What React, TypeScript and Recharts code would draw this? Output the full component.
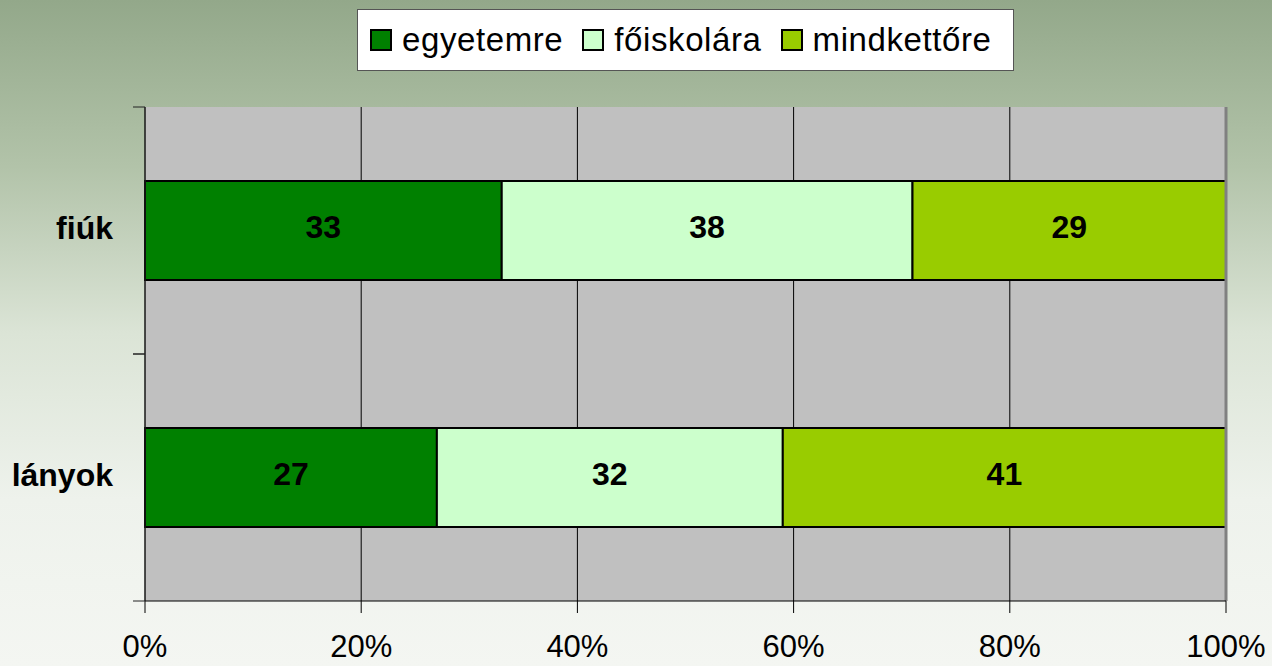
import { Bar, BarChart, CartesianGrid, LabelList, Legend, ReferenceLine, XAxis, YAxis } from 'recharts';
import type { ReactElement } from 'react';

const groups = ['fiúk', 'lányok'];
const egyetemre = [33, 27];
const foiskolara = [38, 32];
const mindketto = [29, 41];
const xTicks = [0, 20, 40, 60, 80, 100];

const seriesNames = ['egyetemre', 'főiskolára', 'mindkettőre'];
const seriesColors = ['#008000', '#CCFFCC', '#99CC00'];

const data = groups.map((g, i) => ({
  group: g,
  s0: egyetemre[i],
  s1: foiskolara[i],
  s2: mindketto[i],
}));

const font = '"Liberation Sans", Arial, sans-serif';
const catMargin = 32;

function LegendBox(): ReactElement {
  return (
    <div
      style={{
        background: '#fff',
        border: '1px solid #555',
        width: 657,
        height: 62,
        boxSizing: 'border-box',
        display: 'flex',
        alignItems: 'center',
        paddingLeft: 12,
        fontFamily: font,
        fontSize: 33,
        color: '#000',
        gap: 19,
      }}
    >
      {seriesNames.map((name, i) => (
        <div key={name} style={{ display: 'flex', alignItems: 'center' }}>
          <span
            style={{
              display: 'inline-block',
              width: 18,
              height: 18,
              background: seriesColors[i],
              border: '2px solid #000',
              marginRight: 10,
            }}
          />
          <span style={{ letterSpacing: 0.6 }}>{name}</span>
        </div>
      ))}
    </div>
  );
}

// category label plus tick marks on the band edges
function CategoryTick(props: any): ReactElement {
  const { x, y, payload } = props;
  const half = payload?.offset ?? 0;
  const axisX = x + catMargin;
  return (
    <g>
      <text
        x={x}
        y={y}
        dy={-3}
        textAnchor="end"
        dominantBaseline="central"
        fontSize={32}
        fontWeight="bold"
        fontFamily={font}
        fill="#000"
      >
        {payload.value}
      </text>
      {half > 0 && (
        <>
          <line x1={axisX - 12} x2={axisX} y1={y - half} y2={y - half} stroke="#222" />
          <line x1={axisX - 12} x2={axisX} y1={y + half} y2={y + half} stroke="#222" />
        </>
      )}
    </g>
  );
}

export default function App(): ReactElement {
  return (
    <div
      style={{
        position: 'fixed',
        left: 0,
        top: 0,
        width: 1272,
        height: 666,
        background: 'linear-gradient(to bottom, #93a88a 0%, #b2c3a9 25%, #dbe4d6 50%, #eef2ec 75%, #f4f6f2 100%)',
      }}
    >
      <BarChart
        width={1272}
        height={666}
        data={data}
        layout="vertical"
        margin={{ top: 107, right: 46, left: 0, bottom: 0 }}
        barCategoryGap="30%"
      >
        <CartesianGrid fill="#C0C0C0" horizontal={false} stroke="#000" strokeOpacity={1} />
        <XAxis
          type="number"
          domain={[0, 100]}
          ticks={xTicks}
          tickFormatter={(v) => `${v}%`}
          height={65}
          stroke="#000"
          tickSize={12}
          tickMargin={22}
          tick={{ fontSize: 31, fill: '#000', fontFamily: font }}
          interval={0}
        />
        <YAxis
          type="category"
          dataKey="group"
          width={145}
          axisLine={{ stroke: '#222' }}
          tickLine={false}
          tickSize={0}
          tickMargin={catMargin}
          tick={<CategoryTick />}
        />
        <YAxis yAxisId="t" type="number" domain={[0, 2]} hide />
        <ReferenceLine x={100} stroke="#808080" strokeWidth={3} />
        <ReferenceLine yAxisId="t" y={2} stroke="#808080" strokeWidth={3} />
        {['s0', 's1', 's2'].map((key, i) => (
          <Bar
            key={key}
            dataKey={key}
            name={seriesNames[i]}
            stackId="a"
            fill={seriesColors[i]}
            stroke="#000"
            strokeWidth={2}
            isAnimationActive={false}
          >
            <LabelList
              dataKey={key}
              position="center"
              fill="#000"
              offset={0}
              dy={-4}
              style={{ fontSize: 32, fontWeight: 'bold', fontFamily: font }}
            />
          </Bar>
        ))}
        <Legend
          verticalAlign="middle"
          align="center"
          layout="horizontal"
          content={() => <LegendBox />}
          wrapperStyle={{ top: 9, left: 357, width: 657 }}
        />
      </BarChart>
    </div>
  );
}
